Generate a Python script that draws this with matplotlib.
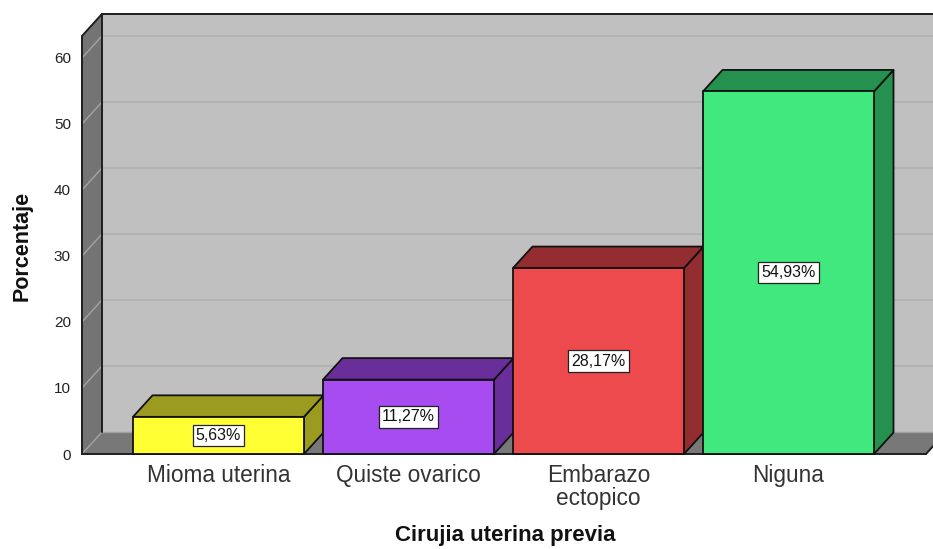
import matplotlib
matplotlib.use("Agg")
import matplotlib.pyplot as plt
from matplotlib.patches import Polygon

plt.rcParams['font.family'] = ['Liberation Sans', 'DejaVu Sans']

# Data
categories = ["Mioma uterina", "Quiste ovarico", "Embarazo\nectopico", "Niguna"]
values = [5.63, 11.27, 28.17, 54.93]
value_labels = ["5,63%", "11,27%", "28,17%", "54,93%"]
yticks = [0, 10, 20, 30, 40, 50, 60]

front_colors = ["#ffff33", "#a64cf0", "#ec4a4d", "#40e87e"]
dark_colors = ["#9b9b20", "#6a2e9b", "#932d30", "#24914f"]

W, H = 933, 549
fig = plt.figure(figsize=(W / 100, H / 100), dpi=100)

# Front plane of the 3D frame in pixel positions
px_left, px_right = 82, 926
px_zero, px_top = 454, 36
ax = fig.add_axes([px_left / W, (H - px_zero) / H,
                   (px_right - px_left) / W, (px_zero - px_top) / H])

xl, xr = -0.7184, 3.7237
ytop = 63.33
ax.set_xlim(xl, xr)
ax.set_ylim(0, ytop)

# depth of the 3D effect in data units
DX = 19.5 / 190.0
DY = 21.5 / 6.6
bar_w = 0.9

for s in ax.spines.values():
    s.set_visible(False)
ax.patch.set_visible(False)

# Back wall
ax.add_patch(Polygon([(xl + DX, DY), (xr + DX, DY), (xr + DX, ytop + DY), (xl + DX, ytop + DY)],
                     closed=True, facecolor="#c0c0c0", edgecolor="none", clip_on=False, zorder=0))
# Left wall
ax.add_patch(Polygon([(xl, 0), (xl + DX, DY), (xl + DX, ytop + DY), (xl, ytop)],
                     closed=True, facecolor="#747474", edgecolor="none", clip_on=False, zorder=0.5))
# Floor
ax.add_patch(Polygon([(xl, 0), (xr, 0), (xr + DX, DY), (xl + DX, DY)],
                     closed=True, facecolor="#787878", edgecolor="none", clip_on=False, zorder=0.5))

# Gridlines on the back wall and left wall
for v in yticks:
    if v > 0:
        ax.plot([xl + DX, xr + DX], [v + DY, v + DY], color="#b2b2b2", lw=1.4,
                clip_on=False, zorder=0.6, solid_capstyle="butt")
    ax.plot([xl, xl + DX], [v, v + DY], color="#a4a4a4", lw=1.0, clip_on=False, zorder=0.6)
ax.plot([xl + DX, xr + DX], [DY, DY], color="#a0a0a0", lw=1.0, clip_on=False, zorder=0.6)

# Frame edges
edge = dict(color="#1e1e1e", lw=1.4, clip_on=False, zorder=0.7, solid_capstyle="round")
ax.plot([xl + DX, xl + DX], [DY, ytop + DY], **edge)
ax.plot([xl + DX, xr + DX], [ytop + DY, ytop + DY], **edge)
ax.plot([xl, xl + DX], [ytop, ytop + DY], **edge)
ax.plot([xl, xl], [0, ytop], **edge)
ax.plot([xl, xr], [0, 0], **edge)
ax.plot([xr, xr + DX], [0, DY], **edge)

# Bars
for i, (v, fc, dc, lab) in enumerate(zip(values, front_colors, dark_colors, value_labels)):
    x0, x1 = i - bar_w / 2, i + bar_w / 2
    z = 2 + i
    ax.add_patch(Polygon([(x1, 0), (x1 + DX, DY), (x1 + DX, v + DY), (x1, v)],
                         closed=True, facecolor=dc, edgecolor="#111111", lw=1.3,
                         joinstyle="round", clip_on=False, zorder=z))
    ax.add_patch(Polygon([(x0, v), (x1, v), (x1 + DX, v + DY), (x0 + DX, v + DY)],
                         closed=True, facecolor=dc, edgecolor="#111111", lw=1.3,
                         joinstyle="round", clip_on=False, zorder=z))
    ax.add_patch(Polygon([(x0, 0), (x1, 0), (x1, v), (x0, v)],
                         closed=True, facecolor=fc, edgecolor="#111111", lw=1.3,
                         joinstyle="round", clip_on=False, zorder=z + 0.1))
    ax.text(i, v / 2, lab, ha="center", va="center", fontsize=11.5, color="#111111",
            zorder=z + 0.2,
            bbox=dict(boxstyle="square,pad=0.2", facecolor="white", edgecolor="#222222", lw=0.9))

# Axes ticks and labels
ax.set_yticks(yticks)
ax.set_yticklabels([str(t) for t in yticks], fontsize=11, color="#222222")
ax.set_xticks(range(len(categories)))
ax.set_xticklabels(categories, fontsize=16.3, color="#333333", linespacing=0.95)
ax.tick_params(axis="both", length=0)
ax.tick_params(axis="y", pad=8)
ax.tick_params(axis="x", pad=7.5)

fig.text(22 / W, 1 - 246 / H, "Porcentaje", rotation=90, ha="center", va="center",
         fontsize=15.5, fontweight="bold", color="#111111")
fig.text(505 / W, 1 - 535 / H, "Cirujia uterina previa", ha="center", va="center",
         fontsize=16, fontweight="bold", color="#111111")

fig.savefig("out.png", dpi=100, facecolor="white")
